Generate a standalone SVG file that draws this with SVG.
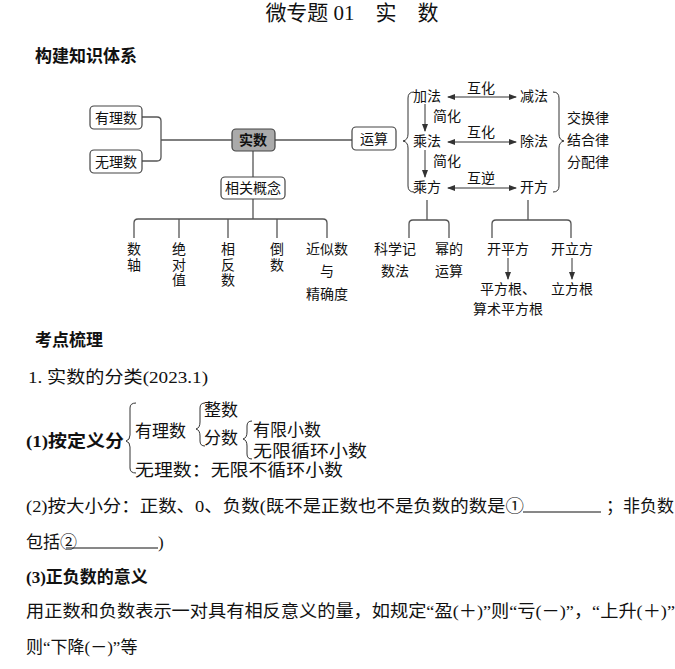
<svg xmlns="http://www.w3.org/2000/svg" width="675" height="669" viewBox="0 0 675 669">
<defs>
<marker id="ah" markerWidth="8" markerHeight="6" refX="7" refY="3" orient="auto-start-reverse" markerUnits="userSpaceOnUse"><path d="M0,0 L8,3 L0,6 Z" fill="#333"/></marker>
</defs>
<style>
text{font-family:"Liberation Serif","Noto Sans CJK SC",serif;fill:#111}
.n{font-size:14px}
.b{font-size:17px}
.bd{font-weight:bold}
.box{fill:#fff;stroke:#444;stroke-width:1.2}
.ln{fill:none;stroke:#555;stroke-width:1.3}
.ar{fill:none;stroke:#333;stroke-width:1}
.m{text-anchor:middle}
</style>
<rect width="675" height="669" fill="#fff"/>
<text x="352" y="20" class="m" font-size="21">微专题 01　实　数</text>
<text x="35" y="62" class="b bd">构建知识体系</text>
<g id="connectors">
<path class="ln" d="M142,117 H157 Q161,117 161,121 V157 Q161,161 157,161 H142 M161,140 H232 M275,140 H352 M253,151 V177 M253,199 V219"/>
<path class="ln" d="M138,219 H323 M134,238 V223 Q134,219 138,219 M179,219 V238 M228,219 V238 M277,219 V238 M323,219 Q327,219 327,223 V238"/>
<path class="ar" d="M414,92 Q408,92 408,98 V134 Q408,140 403,141 Q408,142 408,148 V186 Q408,192 414,192"/>
<path class="ar" d="M553,92 Q559,92 559,98 V134 Q559,140 564,141 Q559,142 559,148 V186 Q559,192 553,192"/>
<line class="ar" x1="448" y1="97" x2="516" y2="97" marker-start="url(#ah)" marker-end="url(#ah)"/>
<line class="ar" x1="448" y1="142" x2="516" y2="142" marker-start="url(#ah)" marker-end="url(#ah)"/>
<line class="ar" x1="448" y1="188" x2="516" y2="188" marker-start="url(#ah)" marker-end="url(#ah)"/>
<line class="ar" x1="425" y1="104" x2="425" y2="131" marker-end="url(#ah)"/>
<line class="ar" x1="425" y1="150" x2="425" y2="177" marker-end="url(#ah)"/>
<path class="ln" d="M427,200 V220 M409,238 V224 Q409,220 413,220 H445 Q449,220 449,224 V238"/>
<path class="ln" d="M528,200 V220 M492,238 V224 Q492,220 496,220 H567 Q571,220 571,224 V238"/>
<line class="ar" x1="508" y1="258" x2="508" y2="279" marker-end="url(#ah)"/>
<line class="ar" x1="572" y1="258" x2="572" y2="279" marker-end="url(#ah)"/>
</g>
<g id="n1"><rect class="box" x="90" y="106" width="52" height="23" rx="4"/><text x="116" y="123" class="n m">有理数</text></g>
<g id="n2"><rect class="box" x="90" y="150" width="52" height="23" rx="4"/><text x="116" y="167" class="n m">无理数</text></g>
<g id="n3"><rect x="232" y="129" width="43" height="22" rx="4" fill="#aaa" stroke="#444" stroke-width="1.2"/><text x="253" y="145" class="n m bd">实数</text></g>
<g id="n4"><rect class="box" x="352" y="127" width="44" height="23" rx="4"/><text x="374" y="144" class="n m">运算</text></g>
<g id="n5"><rect class="box" x="221" y="177" width="64" height="22" rx="4"/><text x="253" y="193" class="n m">相关概念</text></g>
<g id="leaves">
<text x="134" y="254" class="n m">数</text><text x="134" y="270" class="n m">轴</text>
<text x="179" y="254" class="n m">绝</text><text x="179" y="270" class="n m">对</text><text x="179" y="285" class="n m">值</text>
<text x="228" y="254" class="n m">相</text><text x="228" y="270" class="n m">反</text><text x="228" y="285" class="n m">数</text>
<text x="277" y="254" class="n m">倒</text><text x="277" y="270" class="n m">数</text>
<text x="327" y="254" class="n m">近似数</text><text x="327" y="276" class="n m">与</text><text x="327" y="299" class="n m">精确度</text>
</g>
<g id="ops">
<text x="427" y="101" class="n m">加法</text><text x="534" y="101" class="n m">减法</text>
<text x="427" y="146" class="n m">乘法</text><text x="534" y="146" class="n m">除法</text>
<text x="427" y="192" class="n m">乘方</text><text x="534" y="192" class="n m">开方</text>
<text x="481" y="93" class="n m">互化</text><text x="481" y="137" class="n m">互化</text><text x="481" y="183" class="n m">互逆</text>
<text x="447" y="121" class="n m">简化</text><text x="447" y="166" class="n m">简化</text>
<text x="588" y="123" class="n m">交换律</text><text x="588" y="145" class="n m">结合律</text><text x="588" y="167" class="n m">分配律</text>
<text x="395" y="254" class="n m">科学记</text><text x="395" y="276" class="n m">数法</text>
<text x="449" y="254" class="n m">幂的</text><text x="449" y="276" class="n m">运算</text>
<text x="508" y="254" class="n m">开平方</text><text x="572" y="254" class="n m">开立方</text>
<text x="508" y="294" class="n m">平方根、</text><text x="508" y="314" class="n m">算术平方根</text>
<text x="572" y="294" class="n m">立方根</text>
</g>
<text x="35" y="346" class="b bd">考点梳理</text>
<text x="28" y="383" class="b" textLength="180" lengthAdjust="spacingAndGlyphs">1. 实数的分类(2023.1)</text>
<text x="26" y="447" class="b bd" textLength="98" lengthAdjust="spacingAndGlyphs">(1)按定义分</text>
<path class="ar" stroke-width="1.5" d="M136,403 Q130,403 130,408 V435 Q130,440 126,441 Q130,442 130,447 V468 Q130,473 136,473"/>
<text x="135" y="437" class="b">有理数</text>
<path class="ar" stroke-width="1.5" d="M205,403 Q200,403 200,408 V422 Q200,428 196,429 Q200,430 200,436 V441 Q200,446 205,446"/>
<text x="204" y="416" class="b">整数</text><text x="204" y="444" class="b">分数</text>
<path class="ar" stroke-width="1.5" d="M252,421 Q247,421 247,426 V432 Q247,438 243,439 Q247,440 247,446 V454 Q247,459 252,459"/>
<text x="253" y="436" class="b">有限小数</text><text x="253" y="457" class="b" textLength="114" lengthAdjust="spacingAndGlyphs">无限循环小数</text>
<text x="135" y="476" class="b" textLength="208" lengthAdjust="spacingAndGlyphs">无理数：无限不循环小数</text>
<text x="26" y="512" class="b" textLength="498" lengthAdjust="spacingAndGlyphs">(2)按大小分：正数、0、负数(既不是正数也不是负数的数是①</text>
<line x1="523" y1="512" x2="601" y2="512" stroke="#111"/>
<text x="606" y="512" class="b">；非负数</text>
<text x="26" y="548" class="b">包括②</text>
<line x1="66" y1="548" x2="158" y2="548" stroke="#111"/>
<text x="158" y="548" class="b">)</text>
<text x="26" y="583" class="b bd">(3)正负数的意义</text>
<text x="26" y="617" class="b" textLength="649" lengthAdjust="spacingAndGlyphs">用正数和负数表示一对具有相反意义的量，如规定“盈(＋)”则“亏(－)”，“上升(＋)”</text>
<text x="26" y="653" class="b">则“下降(－)”等</text>
</svg>
